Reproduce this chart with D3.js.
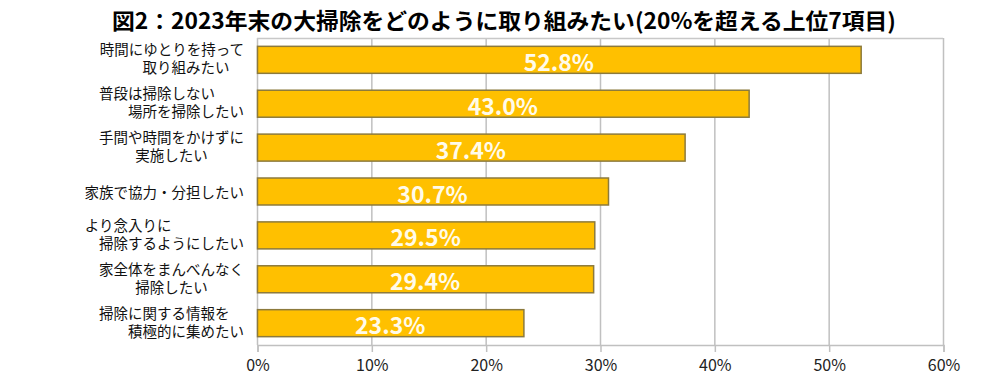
<!DOCTYPE html>
<html><head><meta charset="utf-8">
<script src="https://cdn.jsdelivr.net/npm/d3@7"></script>
<style>
html,body{margin:0;padding:0;background:#fff;}
text{font-family:"Noto Sans CJK JP","Noto Sans",sans-serif;}
</style></head>
<body><svg id="chart" width="1008" height="392"></svg>
<script>
const title = "図2：2023年末の大掃除をどのように取り組みたい(20%を超える上位7項目)";
const categories = [
  ["時間にゆとりを持って", "取り組みたい\u3000"],
  ["普段は掃除しない\u3000\u3000", "場所を掃除したい"],
  ["手間や時間をかけずに", "実施したい\u3000\u3000\u2002"],
  ["家族で協力・分担したい"],
  ["より念入りに\u3000\u3000\u3000\u3000\u3000", "掃除するようにしたい"],
  ["家全体をまんべんなく", "掃除したい\u3000\u3000\u2002"],
  ["掃除に関する情報を\u3000", "積極的に集めたい"]
];
const values = [52.8, 43.0, 37.4, 30.7, 29.5, 29.4, 23.3];
const ticks = [0, 10, 20, 30, 40, 50, 60];

const svg = d3.select("#chart");
const L = 257, R = 943, T = 38, B = 345;

svg.append("text").attr("x", 504).attr("y", 29)
  .attr("text-anchor", "middle").attr("font-size", 22).attr("font-weight", "bold")
  .attr("fill", "#000").attr("textLength", 784).attr("lengthAdjust", "spacingAndGlyphs")
  .text(title);

const x = d3.scaleLinear().domain([0, 60]).range([L, R]);
const y = d3.scaleBand().domain(d3.range(values.length)).range([T, B]).paddingInner(0.385).paddingOuter(0.19);

// grid
svg.append("g").selectAll("line").data(ticks).join("line")
  .attr("x1", d => x(d) + 0.5).attr("x2", d => x(d) + 0.5)
  .attr("y1", T).attr("y2", B)
  .attr("stroke", "#c0c0c0").attr("stroke-width", 1.5);
svg.append("line").attr("x1", L).attr("x2", R).attr("y1", T + 0.5).attr("y2", T + 0.5)
  .attr("stroke", "#c8c8c8").attr("stroke-width", 1.5);

// x axis
const xAxis = d3.axisBottom(x).tickValues(ticks).tickFormat(d => d + "%").tickSize(7).tickPadding(8);
const ax = svg.append("g").attr("transform", `translate(0.5,${B})`).call(xAxis);
ax.select(".domain").attr("stroke", "#c0c0c0").attr("stroke-width", 1.5);
ax.selectAll(".tick line").attr("stroke", "#c0c0c0").attr("stroke-width", 1.5);
ax.selectAll(".tick text").attr("font-size", 16).attr("fill", "#222")
  .style("font-family", "'Noto Sans CJK JP',sans-serif");

// bars
svg.append("g").selectAll("rect").data(values).join("rect")
  .attr("x", x(0) + 0.5).attr("y", (d, i) => y(i))
  .attr("width", d => x(d) - x(0)).attr("height", y.bandwidth())
  .attr("fill", "#ffc000").attr("stroke", "#8c7a3c").attr("stroke-width", 1.5);

// value labels
svg.append("g").selectAll("text").data(values).join("text")
  .attr("x", d => (x(0) + x(d)) / 2).attr("y", (d, i) => y(i) + y.bandwidth() / 2 + 1)
  .attr("text-anchor", "middle").attr("dominant-baseline", "central")
  .attr("font-size", 23).attr("font-weight", "bold").attr("fill", "#fffbea")
  .text(d => d.toFixed(1) + "%");

// category labels
const lh = 18;
const cg = svg.append("g");
categories.forEach((lines, i) => {
  const cy = y(i) + y.bandwidth() / 2 - (lines.length > 1 ? 2 : 0);
  lines.forEach((ln, j) => {
    cg.append("text").attr("text-anchor", "end").attr("font-size", 14.5).attr("fill", "#111")
      .attr("x", 244)
      .attr("y", cy + (j - (lines.length - 1) / 2) * lh)
      .attr("dominant-baseline", "central").text(ln);
  });
});
</script></body></html>
